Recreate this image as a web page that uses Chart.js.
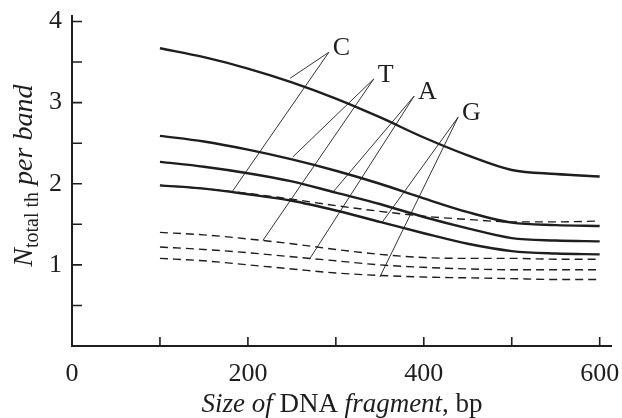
<!DOCTYPE html>
<html>
<head>
<meta charset="utf-8">
<script src="https://cdn.jsdelivr.net/npm/chart.js@4.4.1/dist/chart.umd.min.js"></script>
<style>
  html, body { margin: 0; padding: 0; background: #fff; }
  #wrap { width: 622px; height: 418px; }
</style>
</head>
<body>
<div id="wrap"><canvas id="chart" width="622" height="418"></canvas></div>
<script>
// fragment sizes, bp
const sizes = [100, 150, 200, 250, 300, 350, 400, 450, 500, 550, 600];

// solid curves
const solidC = [3.67, 3.56, 3.42, 3.25, 3.05, 2.82, 2.57, 2.35, 2.17, 2.12, 2.09];
const solidT = [2.59, 2.52, 2.42, 2.30, 2.16, 2.00, 1.82, 1.65, 1.52, 1.49, 1.48];
const solidA = [2.27, 2.21, 2.13, 2.03, 1.89, 1.75, 1.59, 1.45, 1.33, 1.30, 1.29];
const solidG = [1.98, 1.94, 1.87, 1.79, 1.67, 1.53, 1.39, 1.26, 1.17, 1.14, 1.13];

// dashed curves
const dashC = [1.98, 1.94, 1.88, 1.81, 1.73, 1.66, 1.60, 1.56, 1.53, 1.53, 1.54];
const dashT = [1.40, 1.37, 1.32, 1.26, 1.19, 1.13, 1.09, 1.08, 1.08, 1.07, 1.07];
const dashA = [1.22, 1.19, 1.15, 1.10, 1.05, 1.00, 0.97, 0.95, 0.94, 0.94, 0.94];
const dashG = [1.08, 1.05, 1.00, 0.95, 0.90, 0.87, 0.85, 0.84, 0.83, 0.82, 0.82];

// curve labels and their leader lines (data coords)
const curveLabels = ["C", "T", "A", "G"];
const leaderVertex = [[292, 3.62], [343, 3.29], [389, 3.08], [439, 2.82]];
const leaderSolidEnd = [[248, 3.30], [251, 2.33], [297, 1.90], [353, 1.53]];
const leaderDashEnd = [[182, 1.90], [217, 1.30], [270, 1.07], [350, 0.85]];

// axis ticks
const xTicks = [100, 200, 300, 400, 500, 600];
const xTickLabels = [0, 200, 400, 600];
const yTicks = [0.5, 1, 1.5, 2, 2.5, 3, 3.5, 4];
const yTickLabels = [1, 2, 3, 4];

const ink = "#1e1e1e";
const serif = "'Liberation Serif', 'Times New Roman', serif";

const pts = arr => sizes.map((s, i) => ({ x: s, y: arr[i] }));

const solidSet = arr => ({
  data: pts(arr),
  borderColor: ink,
  borderWidth: 2.4,
  pointRadius: 0,
  cubicInterpolationMode: "monotone",
  fill: false
});
const dashSet = arr => ({
  data: pts(arr),
  borderColor: ink,
  borderWidth: 1.4,
  borderDash: [8, 5],
  pointRadius: 0,
  cubicInterpolationMode: "monotone",
  fill: false
});
const leaderSets = curveLabels.map((_, i) => ({
  data: [leaderSolidEnd[i], leaderVertex[i], leaderDashEnd[i]].map(p => ({ x: p[0], y: p[1] })),
  borderColor: ink,
  borderWidth: 0.9,
  pointRadius: 0,
  tension: 0,
  fill: false
}));

function drawParts(ctx, parts, cx, cy) {
  let total = 0;
  parts.forEach(p => { ctx.font = p[1] + " " + p[2] + "px " + serif; total += ctx.measureText(p[0]).width; });
  let x = cx - total / 2;
  ctx.textAlign = "left";
  ctx.textBaseline = "alphabetic";
  parts.forEach(p => {
    ctx.font = p[1] + " " + p[2] + "px " + serif;
    ctx.fillText(p[0], x, cy + (p[3] || 0));
    x += ctx.measureText(p[0]).width;
  });
}

const axesPlugin = {
  id: "axesPlugin",
  beforeDatasetsDraw(chart) {
    const ctx = chart.ctx;
    const xs = chart.scales.x, ys = chart.scales.y;
    const x0 = xs.getPixelForValue(0), y0 = ys.getPixelForValue(0);
    ctx.save();
    ctx.strokeStyle = ink;
    ctx.lineWidth = 2;
    ctx.beginPath();
    ctx.moveTo(x0, ys.getPixelForValue(ys.max));
    ctx.lineTo(x0, y0);
    ctx.lineTo(xs.getPixelForValue(xs.max), y0);
    ctx.stroke();
    ctx.lineWidth = 1.6;
    ctx.beginPath();
    xTicks.forEach(v => {
      const px = xs.getPixelForValue(v);
      ctx.moveTo(px, y0);
      ctx.lineTo(px, y0 - 9);
    });
    yTicks.forEach(v => {
      const py = ys.getPixelForValue(v);
      ctx.moveTo(x0, py);
      ctx.lineTo(x0 + 10, py);
    });
    ctx.stroke();
    ctx.restore();
  },
  afterDatasetsDraw(chart) {
    const ctx = chart.ctx;
    const xs = chart.scales.x, ys = chart.scales.y;
    const x0 = xs.getPixelForValue(0), y0 = ys.getPixelForValue(0);
    ctx.save();
    ctx.fillStyle = ink;
    ctx.font = "26px " + serif;
    ctx.textBaseline = "middle";
    ctx.textAlign = "center";
    xTickLabels.forEach(v => ctx.fillText(String(v), xs.getPixelForValue(v), y0 + 28));
    ctx.textAlign = "right";
    yTickLabels.forEach(v => ctx.fillText(String(v), x0 - 10, ys.getPixelForValue(v)));

    // curve labels
    ctx.textAlign = "left";
    ctx.textBaseline = "alphabetic";
    curveLabels.forEach((t, i) => {
      const px = xs.getPixelForValue(leaderVertex[i][0]);
      const py = ys.getPixelForValue(leaderVertex[i][1]);
      ctx.fillText(t, px + 4, py + 3);
    });

    // x title: mixed italic / roman
    drawParts(ctx, [["Size of ", "italic", 27], ["DNA ", "normal", 27], ["fragment", "italic", 27], [", bp", "normal", 27]],
      (x0 + xs.getPixelForValue(xs.max)) / 2, y0 + 66);

    // y title, rotated
    ctx.save();
    ctx.translate(32, (ys.getPixelForValue(0.95) + ys.getPixelForValue(3.25)) / 2);
    ctx.rotate(-Math.PI / 2);
    drawParts(ctx, [["N", "italic", 28], ["total th", "normal", 20, 6], [" per band", "italic", 28]], 0, 0);
    ctx.restore();
    ctx.restore();
  }
};

new Chart(document.getElementById("chart"), {
  type: "line",
  data: {
    datasets: [
      solidSet(solidC), solidSet(solidT), solidSet(solidA), solidSet(solidG),
      dashSet(dashC), dashSet(dashT), dashSet(dashA), dashSet(dashG),
      ...leaderSets
    ]
  },
  options: {
    responsive: false,
    animation: false,
    layout: { padding: { left: 72, right: 10, top: 15, bottom: 72 } },
    plugins: { legend: { display: false }, tooltip: { enabled: false } },
    scales: {
      x: { type: "linear", min: 0, max: 614, display: false },
      y: { type: "linear", min: 0, max: 4.08, display: false }
    }
  },
  plugins: [axesPlugin]
});
</script>
</body>
</html>
